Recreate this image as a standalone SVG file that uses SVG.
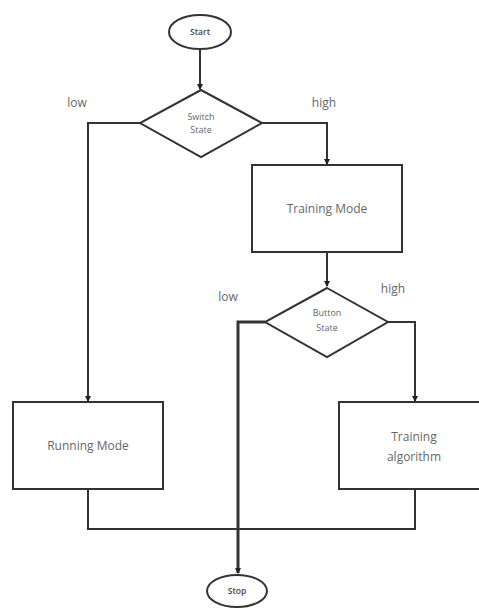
<svg xmlns="http://www.w3.org/2000/svg" width="479" height="610" viewBox="0 0 479 610">
<style>
.s{fill:#fff;stroke:#333;stroke-width:2}
.c{fill:none;stroke:#333;stroke-width:2}
.t{font-family:"Open Sans","Liberation Sans",sans-serif;fill:#666;text-anchor:middle}
.b{fill:#444;font-weight:600}
</style>
<defs>
<marker id="a" markerWidth="6" markerHeight="6" refX="5" refY="3" orient="auto" markerUnits="userSpaceOnUse">
<path d="M0,0 L6,3 L0,6 Z" fill="#222"/>
</marker>
</defs>
<rect width="479" height="610" fill="#fff"/>
<g id="connectors">
<path class="c" d="M200,50 V89" marker-end="url(#a)"/>
<path class="c" d="M140,123 H88 V401" marker-end="url(#a)"/>
<path class="c" d="M262,123 H327 V164" marker-end="url(#a)"/>
<path class="c" d="M327,252 V286" marker-end="url(#a)"/>
<path class="c" d="M388,322 H415 V401" marker-end="url(#a)"/>
<path class="c" d="M265,322 H238 V573" style="stroke-width:3" marker-end="url(#a)"/>
<path class="c" d="M88,489 V529 H415 V489"/>
<text class="t" x="77" y="107" font-size="12">low</text>
<text class="t" x="324" y="107" font-size="12">high</text>
<text class="t" x="228" y="301" font-size="12">low</text>
<text class="t" x="393" y="293" font-size="12">high</text>
</g>
<g id="start">
<ellipse class="s" cx="200" cy="32" rx="31" ry="17"/>
<text class="t b" x="200" y="35" font-size="8.5">Start</text>
</g>
<g id="switch">
<polygon class="s" points="201,90 262,123 201,157 140,123"/>
<text class="t" x="201" y="120" font-size="9">Switch</text>
<text class="t" x="201" y="133" font-size="9">State</text>
</g>
<g id="training-mode">
<rect class="s" x="252" y="165" width="150" height="87"/>
<text class="t" x="327" y="213" font-size="12">Training Mode</text>
</g>
<g id="button">
<polygon class="s" points="327,288 388,322 327,357 265,322"/>
<text class="t" x="327" y="316" font-size="9">Button</text>
<text class="t" x="327" y="331" font-size="9">State</text>
</g>
<g id="running-mode">
<rect class="s" x="13" y="402" width="150" height="87"/>
<text class="t" x="88" y="450" font-size="12">Running Mode</text>
</g>
<g id="training-algorithm">
<rect class="s" x="339" y="402" width="152" height="87"/>
<text class="t" x="414" y="441" font-size="12">Training</text>
<text class="t" x="414" y="461" font-size="12">algorithm</text>
</g>
<g id="stop">
<ellipse class="s" cx="237" cy="591" rx="30" ry="16"/>
<text class="t b" x="237" y="594" font-size="8.5">Stop</text>
</g>
</svg>
